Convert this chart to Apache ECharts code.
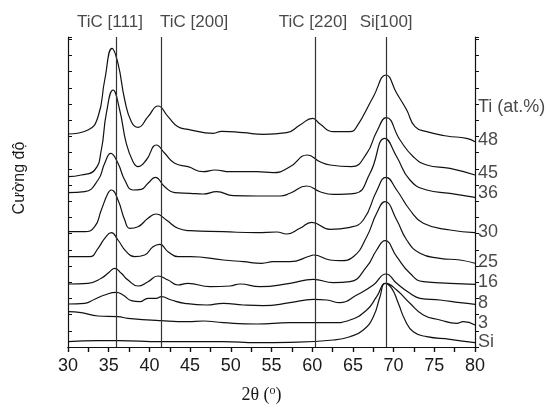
<!DOCTYPE html>
<html>
<head>
<meta charset="utf-8">
<script src="https://cdn.jsdelivr.net/npm/echarts@6/dist/echarts.min.js"></script>
<style>
  html, body { margin: 0; padding: 0; background: #fff; }
  #chart { width: 545px; height: 407px; }
</style>
</head>
<body>
<div id="chart"></div>
<script>
// XRD scans, stacked (intensity a.u., offset per sample)
const ti48 = [[30.00,213],[32.46,217],[33.69,230.3],[34.51,267],[35.41,298.7],[36.14,283.7],[36.97,247],[37.78,225.3],[38.60,219.7],[39.83,230.3],[41.06,241],[42.29,230.3],[43.51,220.3],[44.74,217.7],[47.85,213.7],[48.88,215.7],[51.54,214.3],[53.99,212.7],[56.87,214.3],[58.50,222],[60.06,228.7],[60.96,223],[62.59,215.3],[64.64,215.3],[65.47,220.3],[67.51,250.3],[69.07,272],[70.38,253.7],[71.61,237],[72.63,220.3],[74.07,215.3],[76.52,211],[78.97,208.7],[80.00,205.3]]
const ti45 = [[30.00,170.3],[31.63,172],[33.28,177],[34.09,197],[34.71,233.7],[35.53,257],[36.35,237],[37.16,203.7],[37.99,185.3],[38.60,180.3],[39.62,187],[40.85,202],[41.88,193.7],[43.11,183.7],[44.74,180.3],[46.62,175.3],[48.06,177],[49.90,175.3],[53.18,175.3],[55.22,174.3],[57.27,180.3],[59.40,192],[60.96,185.3],[62.19,182],[64.85,180.3],[66.70,193.7],[67.92,215.3],[69.10,229.3],[70.79,207],[72.42,190.3],[74.07,182],[76.93,178.7],[80.00,172]]
const ti36 = [[30.00,154.3],[32.05,155.3],[33.69,167],[34.51,183.7],[35.25,193.7],[36.14,183.7],[36.97,167],[37.99,157],[39.00,157.7],[39.83,163.7],[40.72,169.7],[41.88,160.3],[43.11,154.3],[44.99,153.7],[46.62,153],[48.27,155.3],[50.31,151.3],[53.18,151],[56.04,151],[57.27,153.7],[59.32,161],[60.96,155.3],[62.59,152.7],[65.26,153.7],[67.10,173.7],[68.94,208.7],[70.38,190.3],[72.01,167],[74.07,157],[76.93,153.7],[80.00,149.7]]
const ti30 = [[30.00,115.3],[32.05,115.3],[33.28,120.3],[34.09,137],[34.91,153.7],[35.32,157],[36.14,147],[36.97,127],[37.58,118.7],[38.60,120.3],[39.83,128.7],[40.85,133],[42.08,127],[43.51,118.7],[44.99,116.3],[49.08,115.3],[53.18,114.3],[55.64,115],[56.87,113],[58.50,118.7],[59.94,124.7],[62.19,117.7],[64.64,119.7],[66.28,127],[67.92,156],[69.07,169.7],[70.38,157],[72.01,137],[73.65,123.7],[76.93,117],[80.00,114.3]]
const ti25 = [[30.00,90.3],[32.67,90.3],[33.69,98.7],[34.51,108.7],[35.32,114.3],[36.14,107],[37.16,95.3],[38.19,90.3],[39.42,92],[40.44,100.3],[41.27,102.7],[42.29,95.3],[43.51,90.3],[44.99,90.3],[49.08,87],[51.54,85.3],[53.80,83.7],[55.22,85.3],[57.27,85.3],[59.73,91],[60.14,92],[62.19,87],[63.42,86.3],[65.05,90.3],[66.70,110.3],[67.92,133.7],[68.94,145.3],[70.38,127],[71.61,107],[73.24,93.7],[75.70,88.7],[78.16,87],[80.00,83.7]]
const ti16 = [[30.00,63],[32.46,63.7],[34.09,68.7],[35.12,75.3],[35.74,78.7],[36.55,73.7],[37.37,67],[38.60,61],[39.83,65.3],[41.06,71],[42.29,67],[43.51,62],[44.74,63.7],[47.44,60.3],[49.90,61],[51.13,63],[53.59,60.3],[57.27,63.7],[60.14,67.7],[62.59,64.3],[64.64,65.3],[66.70,80.3],[67.92,97],[68.94,106.3],[70.38,90.3],[72.01,73.7],[73.65,65.3],[76.93,63.7],[80.00,62.7]]
const ti8 = [[30.00,43],[32.05,43.7],[33.28,47.7],[34.51,52],[35.93,54.7],[36.76,52],[37.78,46.3],[38.81,45.3],[39.83,48.7],[40.85,48.7],[41.46,50.3],[42.69,47],[44.34,43.7],[47.04,42],[49.08,43.7],[51.54,42],[53.99,41.3],[57.27,44.3],[60.14,47.7],[61.78,47],[63.42,44.3],[65.47,52],[67.51,62],[69.07,73],[70.38,63.7],[72.01,53.7],[73.24,48.7],[75.70,47],[78.16,44.3],[80.00,42.7]]
const ti3 = [[30.00,35.3],[31.63,34.3],[33.69,31],[36.14,30.3],[37.37,28.7],[41.46,26.3],[44.74,25.3],[46.62,26],[49.08,24.3],[53.18,23],[57.27,24.3],[62.59,24.3],[64.64,27],[66.70,37],[67.92,50.3],[69.07,63.7],[70.38,57],[72.01,43.7],[73.65,32],[75.70,27],[77.75,23.7],[78.56,25.3],[80.00,22]]
const siSub = [[30.00,5.3],[33.69,6.3],[36.14,6.3],[41.46,5.3],[49.08,5.3],[53.18,4.3],[57.27,4.7],[62.59,7],[64.64,10.3],[66.28,17],[67.51,30.3],[68.33,50.3],[68.94,63.7],[69.77,58.7],[70.58,43.7],[71.40,27],[72.42,15.3],[74.07,10.3],[76.93,7.7],[80.00,4.3]]

const scans = [ti48, ti45, ti36, ti30, ti25, ti16, ti8, ti3, siSub]
const scanNames = ['48', '45', '36', '30', '25', '16', '8', '3', 'Si']

// reflection positions (2θ) and their captions
const peakPos = [35.87, 41.4, 60.35, 69.1]
const peakNames = ['TiC [111]', 'TiC [200]', 'TiC [220]', 'Si[100]']
const peakLabelX = [35.16, 45.5, 60.1, 69.08]
const peakLabelY = 325

// right-hand sample labels
const sideLabels = ['Ti (at.%)', '48', '45', '36', '30', '25', '16', '8', '3', 'Si']
const sideLabelY = [240, 207, 174, 154, 115, 85, 64.5, 44, 24, 5]

const font = 'Liberation Sans, Arial, sans-serif'
const ink = '#111'
const textInk = '#1a1a1a'

const chart = echarts.init(document.getElementById('chart'))

const lineSeries = scans.map((d, i) => ({
  name: scanNames[i],
  type: 'line',
  data: d,
  showSymbol: false,
  smooth: 0.5,
  lineStyle: { color: ink, width: 1.2 },
  silent: true,
  z: 3
}))

// vertical reference lines on the first series
lineSeries[0].markLine = {
  silent: true,
  symbol: 'none',
  label: { show: false },
  lineStyle: { color: '#333', width: 1.2, type: 'solid' },
  data: peakPos.map(v => ({ xAxis: v }))
}

const option = {
  animation: false,
  backgroundColor: '#fff',
  grid: { left: 68, right: 70, top: 37, bottom: 60, outerBoundsMode: 'none', containLabel: false },
  xAxis: [
    {
      type: 'value', min: 30, max: 80, interval: 5,
      name: '2θ ({sup|o})',
      nameLocation: 'middle', nameGap: 38,
      nameTextStyle: {
        fontFamily: 'Liberation Serif, Times New Roman, serif', fontSize: 18, color: textInk,
        padding: [0, 20, 0, 0],
        rich: { sup: { fontFamily: 'Liberation Serif, serif', fontSize: 12, verticalAlign: 'top', padding: [0, 0, 9, 0], color: textInk } }
      },
      axisLine: { lineStyle: { color: ink, width: 1.2 } },
      axisTick: { inside: false, length: 5, lineStyle: { color: ink, width: 1.2 } },
      minorTick: { show: true, splitNumber: 2, length: 5, lineStyle: { color: ink, width: 1.2 } },
      axisLabel: { fontFamily: font, fontSize: 18, color: textInk, margin: 10 },
      splitLine: { show: false }
    },
    {
      type: 'value', min: 30, max: 80, interval: 5, position: 'top',
      axisLine: { show: true, lineStyle: { color: ink, width: 1.2 } },
      axisTick: { inside: true, length: 5, lineStyle: { color: ink, width: 1.2 } },
      minorTick: { show: true, splitNumber: 2, length: 5, lineStyle: { color: ink, width: 1.2 } },
      axisLabel: { show: false },
      splitLine: { show: false }
    }
  ],
  yAxis: [
    {
      type: 'value', min: 0, max: 310, interval: 16.2,
      name: 'Cường độ',
      nameLocation: 'middle', nameGap: 40, nameRotate: 90,
      nameTextStyle: { fontFamily: font, fontSize: 16, color: textInk, padding: [0, 0, 0, 28] },
      axisLine: { show: true, lineStyle: { color: ink, width: 1.2 } },
      axisTick: { show: true, inside: true, length: 4, lineStyle: { color: ink, width: 1 } },
      axisLabel: { show: false },
      splitLine: { show: false }
    },
    {
      type: 'value', min: 0, max: 310, interval: 16.2, position: 'right',
      axisLine: { show: true, lineStyle: { color: ink, width: 1.2 } },
      axisTick: { show: true, inside: false, length: 4, lineStyle: { color: ink, width: 1 } },
      axisLabel: { show: false },
      splitLine: { show: false }
    }
  ],
  series: [
    ...lineSeries,
    {
      name: 'peaks',
      type: 'scatter',
      clip: false,
      silent: true,
      symbolSize: 0,
      data: peakLabelX.map((x, i) => ({ value: [x, peakLabelY], name: peakNames[i] })),
      label: {
        show: true, position: 'inside', formatter: p => p.name,
        fontFamily: font, fontSize: 17, color: textInk
      }
    },
    {
      name: 'samples',
      type: 'scatter',
      clip: false,
      silent: true,
      symbolSize: 0,
      data: sideLabelY.map((y, i) => ({ value: [80, y], name: sideLabels[i] })),
      label: {
        show: true, position: 'right', distance: 3, formatter: p => p.name,
        fontFamily: font, fontSize: 18, color: textInk
      }
    }
  ]
}

chart.setOption(option)
</script>
</body>
</html>
